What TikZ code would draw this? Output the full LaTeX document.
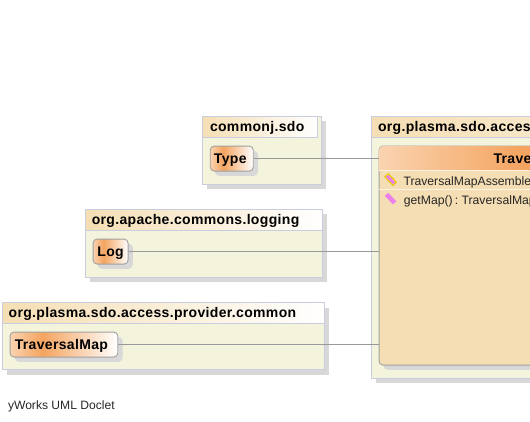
\documentclass[tikz,border=0pt]{standalone}
\usepackage{fontspec}
\setmainfont{Liberation Sans}
\newfontfamily\boldsp[LetterSpace=2.4]{Liberation Sans Bold}
\definecolor{pkgfill}{HTML}{F4F4DC}
\definecolor{pkgline}{HTML}{C8CEE0}
\definecolor{shadowc}{HTML}{D8D8D8}
\definecolor{wheatc}{HTML}{F5DEB3}
\definecolor{classline}{HTML}{A0A0A0}
\definecolor{connc}{HTML}{999999}
\definecolor{peakc}{HTML}{F4A460}
\definecolor{paleor}{HTML}{FAD3B0}
% TikZ fits a path's box to the middle 25bp--75bp of a shading
\pgfdeclarehorizontalshading{tabgrad}{100bp}{color(0bp)=(wheatc); color(25bp)=(wheatc); color(75bp)=(white); color(100bp)=(white)}
\pgfdeclarehorizontalshading{longtabgrad}{100bp}{color(0bp)=(wheatc); color(25bp)=(wheatc); color(75bp)=(wheatc!70!white); color(100bp)=(wheatc!70!white)}
\pgfdeclarehorizontalshading{nodegrad}{100bp}{color(0bp)=(paleor); color(25bp)=(paleor); color(40bp)=(peakc); color(75bp)=(white); color(100bp)=(white)}
\pgfdeclarehorizontalshading{headgrad}{100bp}{color(0bp)=(paleor); color(25bp)=(paleor); color(70bp)=(peakc); color(100bp)=(peakc)}
\tikzset{
  x=1pt,y=-1pt,
  pkgbody/.style={draw=pkgline,fill=pkgfill,line width=0.9pt,inner sep=0pt,anchor=north west},
  pkgtab/.style={draw=pkgline,shading=tabgrad,line width=0.9pt,inner sep=0pt,anchor=north west,minimum height=21pt},
  pkgname/.style={anchor=base west,font=\boldsp\fontsize{14}{14}\selectfont,text=black,inner sep=0pt},
  shadowbox/.style={fill=shadowc,draw=none,inner sep=0pt,anchor=north west},
  classbox/.style={draw=classline,line width=0.9pt,shading=nodegrad,rounded corners=4pt,inner sep=0pt,anchor=north west,minimum height=25pt,text height=10pt,text depth=0pt,font=\boldsp\fontsize{14}{14}\selectfont,text=black},
  classshadow/.style={fill=shadowc,draw=none,rounded corners=4pt,inner sep=0pt,anchor=north west,minimum height=25pt},
  conn/.style={draw=connc,line width=0.9pt},
  member/.style={anchor=base west,inner sep=0pt,font=\fontsize{12.2}{12.2}\selectfont,text=black!85},
  rowline/.style={draw=wheatc!40!white,line width=0.9pt},
}
\begin{document}
\begin{tikzpicture}
\useasboundingbox (0.7,0.7) rectangle (530.7,421.7);
\clip (0.7,0.7) rectangle (530.7,421.7);
% commonj.sdo
\node[shadowbox,minimum width=118.8pt,minimum height=67.8pt] (s1) at (207.5,121.5) {};
\node[pkgbody,minimum width=118.8pt,minimum height=67.8pt] (p1) at (202.5,116.5) {};
\node[pkgtab,minimum width=115.5pt] (t1) at (202.5,116.5) {};
\node[pkgname] (n1) at (210.5,132.4) {commonj.sdo};
\node[classshadow,minimum width=43pt] (cs1) at (215.5,151.3) {};
\node[classbox,minimum width=43pt] (type) at (210.5,146.3) {\kern-3pt Type};
% org.apache.commons.logging
\node[shadowbox,minimum width=237pt,minimum height=68pt] (s2) at (90.3,214.3) {};
\node[pkgbody,minimum width=237pt,minimum height=68pt] (p2) at (85.3,209.3) {};
\node[pkgtab,minimum width=237pt] (t2) at (85.3,209.3) {};
\node[pkgname] (n2) at (92.3,225) {org.apache.commons.logging};
\node[classshadow,minimum width=35pt] (cs2) at (98.3,244.3) {};
\node[classbox,minimum width=35pt] (log) at (93.3,239.3) {Log};
% org.plasma.sdo.access.provider.common
\node[shadowbox,minimum width=322pt,minimum height=67pt] (s3) at (7.5,308) {};
\node[pkgbody,minimum width=322pt,minimum height=67pt] (p3) at (2.5,303) {};
\node[pkgtab,minimum width=322pt] (t3) at (2.5,303) {};
\node[pkgname] (n3) at (9.2,318) {org.plasma.sdo.access.provider.common};
\node[classshadow,minimum width=107.7pt] (cs3) at (15.3,337.3) {};
\node[classbox,minimum width=107.7pt] (tmap) at (10.3,332.3) {\kern-5pt TraversalMap};
% big package
\node[shadowbox,minimum width=170pt,minimum height=262pt] (s4) at (376.3,121.5) {};
\node[pkgbody,minimum width=170pt,minimum height=262pt] (p4) at (371.3,116.5) {};
\node[pkgtab,shading=longtabgrad,minimum width=170pt] (t4) at (371.3,116.5) {};
\node[pkgname] (n4) at (378.5,132.4) {org.plasma.sdo.acces};
% class
\node[classshadow,minimum width=160pt,minimum height=219pt] (cs4) at (384.3,151.3) {};
\node[draw=classline,fill=wheatc,line width=0.9pt,rounded corners=4pt,inner sep=0pt,anchor=north west,minimum width=160pt,minimum height=219pt] (cls) at (379.3,146.3) {};
\shade[shading=headgrad,rounded corners=4pt] ([shift={(0.5,0.5)}]cls.north west) -- ([shift={(-0.5,0.5)}]cls.north east) [sharp corners] -- ([shift={(-0.5,24.5)}]cls.north east) -- ([shift={(0.5,24.5)}]cls.north west) [rounded corners=4pt] -- cycle;
\draw[rowline] ([shift={(0.5,24.7)}]cls.north west) -- ([shift={(-0.5,24.7)}]cls.north east);
\draw[rowline] ([shift={(0.5,44)}]cls.north west) -- ([shift={(-0.5,44)}]cls.north east);
\node[anchor=base west,inner sep=0pt,font=\boldsp\fontsize{14}{14}\selectfont] (title) at (494,164) {Trave};
\fill[fill=violet!30!magenta!50!white,draw=black!60!wheatc,line width=0.8pt] (385.5,177.5) -- (389,174.5) -- (397,183) -- (393.5,186) -- cycle;
\draw[draw=yellow!85!orange,line width=1pt] (385.5,177.5) -- (389,174.5) -- (397,183) -- (393.5,186) -- cycle;
\fill[fill=violet!30!magenta!50!white,draw=none] (385.5,196.5) -- (389,193.5) -- (397,202) -- (393.5,205) -- cycle;
\node[member] (m1) at (404,186.4) {TraversalMapAssemble};
\node[member] (m2) at (404.4,205) {\spaceskip=2.2pt\relax getMap() : TraversalMap};
% connectors
\draw[conn] (type.east) -- (type.east -| cls.west);
\draw[conn] (log.east) -- (log.east -| cls.west);
\draw[conn] (tmap.east) -- (tmap.east -| cls.west);
% footer
\node[anchor=base west,inner sep=0pt,font=\fontsize{12.1}{12.1}\selectfont,text=black!85] (foot) at (8.5,409.7) {yWorks UML Doclet};
\end{tikzpicture}
\end{document}
